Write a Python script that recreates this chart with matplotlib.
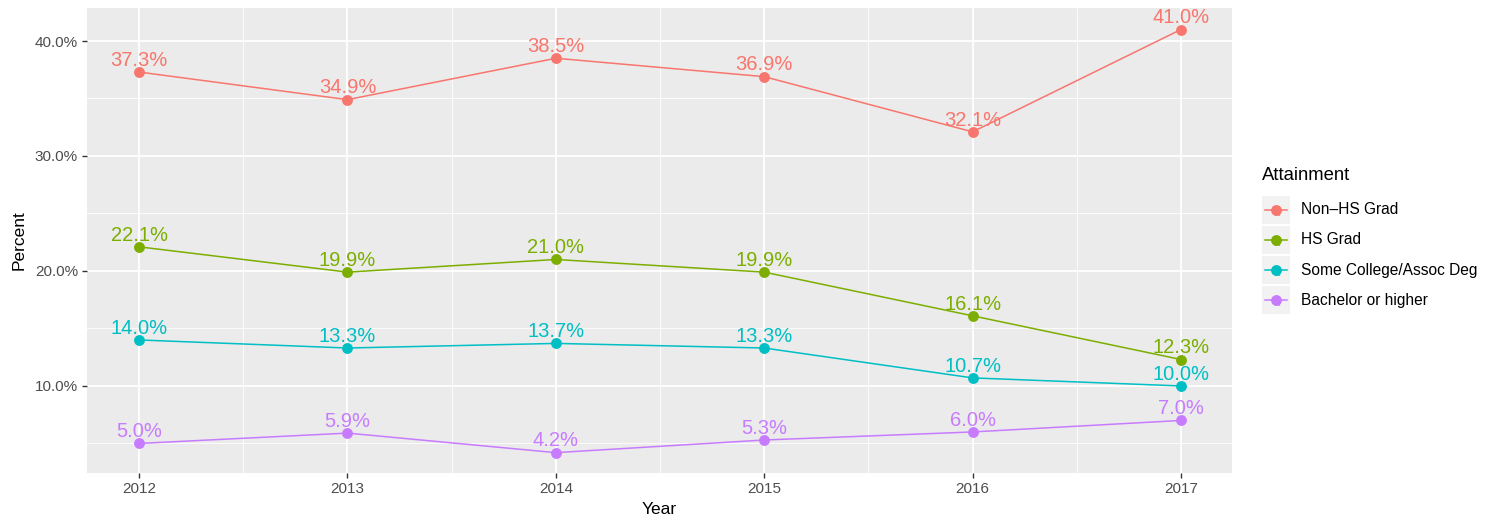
import matplotlib
matplotlib.use("Agg")
import matplotlib.pyplot as plt
from matplotlib.lines import Line2D
from matplotlib.patches import Rectangle
from matplotlib.ticker import MultipleLocator, FuncFormatter

plt.rcParams["font.family"] = ["Liberation Sans", "DejaVu Sans"]

years = [2012, 2013, 2014, 2015, 2016, 2017]
series_names = ["Non\u2013HS Grad", "HS Grad", "Some College/Assoc Deg", "Bachelor or higher"]
non_hs = [37.3, 34.9, 38.5, 36.9, 32.1, 41.0]
hs_grad = [22.1, 19.9, 21.0, 19.9, 16.1, 12.3]
some_college = [14.0, 13.3, 13.7, 13.3, 10.7, 10.0]
bachelor = [5.0, 5.9, 4.2, 5.3, 6.0, 7.0]
colors = ["#F8766D", "#7CAE00", "#00BFC4", "#C77CFF"]

W, H = 1493, 520
fig = plt.figure(figsize=(W / 100, H / 100), dpi=100)
ax = fig.add_axes([87 / W, 1 - 473 / H, (1232 - 87) / W, (473 - 8) / H])
ax.set_facecolor("#EBEBEB")

for name, vals, c in zip(series_names, [non_hs, hs_grad, some_college, bachelor], colors):
    ax.plot(years, vals, color=c, lw=1.1, marker="o", ms=6.8, zorder=3)
    for x, y in zip(years, vals):
        ax.annotate(f"{y:.1f}%", (x, y), xytext=(0, 4.5), textcoords="offset points",
                    ha="center", va="baseline", color=c, fontsize=14.5, zorder=4)

ax.set_xlim(2011.75, 2017.245)
ax.set_ylim(2.43, 42.87)
ax.yaxis.set_major_locator(MultipleLocator(10))
ax.yaxis.set_minor_locator(MultipleLocator(5))
ax.xaxis.set_major_locator(MultipleLocator(1))
ax.xaxis.set_minor_locator(MultipleLocator(0.5))
ax.yaxis.set_major_formatter(FuncFormatter(lambda v, p: f"{v:.1f}%"))
ax.xaxis.set_major_formatter(FuncFormatter(lambda v, p: f"{int(v)}"))
ax.grid(which="major", color="white", lw=1.3)
ax.grid(which="minor", color="white", lw=0.6)
ax.set_axisbelow(True)
for s in ax.spines.values():
    s.set_visible(False)
ax.tick_params(which="major", length=3.5, width=1, color="#333333",
               labelsize=11, labelcolor="#4D4D4D", pad=3)
ax.tick_params(which="minor", length=0)
ax.set_xlabel("Year", fontsize=12.5, labelpad=4)
ax.set_ylabel("Percent", fontsize=12.5, labelpad=6)

# legend drawn in figure pixel coordinates
def fx(px):
    return px / W

def fy(py):
    return 1 - py / H

fig.text(fx(1262), fy(176), "Attainment", fontsize=13.3, va="center", ha="left")
for i, (name, c) in enumerate(zip(series_names, colors)):
    cy = 210 + 30 * i
    fig.add_artist(Rectangle((fx(1262), fy(cy + 14)), 28 / W, 28 / H,
                             transform=fig.transFigure, facecolor="#F2F2F2", edgecolor="none"))
    fig.add_artist(Line2D([fx(1265), fx(1287)], [fy(cy), fy(cy)], color=c, lw=1.1,
                          transform=fig.transFigure))
    fig.text(fx(1277), fy(cy + 3), "a", color=c, fontsize=8, ha="center", va="center")
    fig.add_artist(Line2D([fx(1276)], [fy(cy)], color=c, marker="o", ms=6.8,
                          transform=fig.transFigure))
    fig.text(fx(1301), fy(cy), name, fontsize=11.2, va="center", ha="left")

fig.savefig("out.png", dpi=100)
